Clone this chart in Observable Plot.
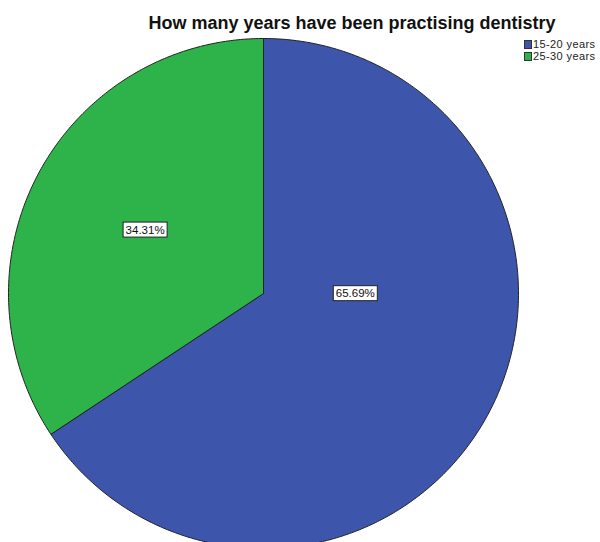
<!DOCTYPE html>
<html>
<head>
<meta charset="utf-8">
<script src="https://cdn.jsdelivr.net/npm/d3@7"></script>
<script src="https://cdn.jsdelivr.net/npm/@observablehq/plot@0.6"></script>
<style>
  html, body { margin: 0; padding: 0; background: #fff; }
  #wrap { position: relative; width: 600px; height: 542px; overflow: hidden; font-family: "Liberation Sans", Arial, sans-serif; }
  #title { position: absolute; left: 0; width: 704px; top: 13px; text-align: center; font-size: 18px; line-height: 20px; font-weight: bold; color: #111; white-space: nowrap; }
  #legend { position: absolute; left: 524px; top: 38px; font-size: 11px; color: #222; line-height: 12px; white-space: nowrap; letter-spacing: 0.4px; }
  #legend .row { display: flex; align-items: center; height: 12px; }
  #legend .sw { width: 6px; height: 7px; border: 1px solid #333; margin-right: 1px; }
  svg { position: absolute; left: 0; top: 0; }
</style>
</head>
<body>
<div id="wrap">
  <div id="title">How many years have been practising dentistry</div>
  <div id="legend"></div>
</div>
<script>
const categories = ["15-20 years", "25-30 years"];
const percents = [65.69, 34.31];
const colors = ["#3D56AC", "#2DB34A"];

// layout (not data): label anchor [angle in turns from top clockwise, radius fraction]
const labelLayout = [[0.25, 0.36], [null, 0.527]];

const pie = d3.pie().sort(null).value(d => d.value)(categories.map((c, i) => ({cat: c, value: percents[i]})));

const pts = [];
pie.forEach(s => {
  const n = Math.max(8, Math.ceil((s.endAngle - s.startAngle) / 0.01));
  pts.push({cat: s.data.cat, x: 0, y: 0});
  for (let k = 0; k <= n; k++) {
    const a = s.startAngle + (s.endAngle - s.startAngle) * k / n;
    pts.push({cat: s.data.cat, x: Math.sin(a), y: Math.cos(a)});
  }
  pts.push({cat: s.data.cat, x: 0, y: 0});
});

const labels = pie.map((s, i) => {
  const [t, r] = labelLayout[i];
  const a = t == null ? (s.startAngle + s.endAngle) / 2 : t * 2 * Math.PI;
  return {text: s.data.value.toFixed(2) + "%", x: r * Math.sin(a), y: r * Math.cos(a)};
});

const cx = 263, cy = 293, R = 255;
const chart = Plot.plot({
  width: 600, height: 542,
  margin: 0,
  x: {domain: [-1, 1], range: [cx - R, cx + R], axis: null},
  y: {domain: [-1, 1], range: [cy + R, cy - R], axis: null},
  color: {domain: categories, range: colors},
  style: {fontFamily: "Liberation Sans, Arial, sans-serif", background: "transparent"},
  marks: [
    Plot.line(pts, {x: "x", y: "y", z: "cat", fill: "cat", stroke: "#222", strokeWidth: 1, curve: "linear"}),
    Plot.text(labels, {x: "x", y: "y", text: "text", fill: "#111", fontSize: 11.5, className: "plbl"})
  ]
});
document.getElementById("wrap").appendChild(chart);

// boxes behind labels
chart.querySelectorAll(".plbl text").forEach(t => {
  const b = t.getBBox();
  const rect = document.createElementNS("http://www.w3.org/2000/svg", "rect");
  rect.setAttribute("x", b.x - 2.5);
  rect.setAttribute("y", b.y - 1.5);
  rect.setAttribute("width", b.width + 5);
  rect.setAttribute("height", b.height + 3);
  rect.setAttribute("fill", "#fff");
  rect.setAttribute("stroke", "#222");
  rect.setAttribute("stroke-width", 1);
  const tr = t.getAttribute("transform");
  if (tr) rect.setAttribute("transform", tr);
  t.parentNode.insertBefore(rect, t);
});

const leg = document.getElementById("legend");
categories.forEach((c, i) => {
  const row = document.createElement("div");
  row.className = "row";
  row.innerHTML = `<span class="sw" style="background:${colors[i]}"></span><span>${c}</span>`;
  leg.appendChild(row);
});
</script>
</body>
</html>
